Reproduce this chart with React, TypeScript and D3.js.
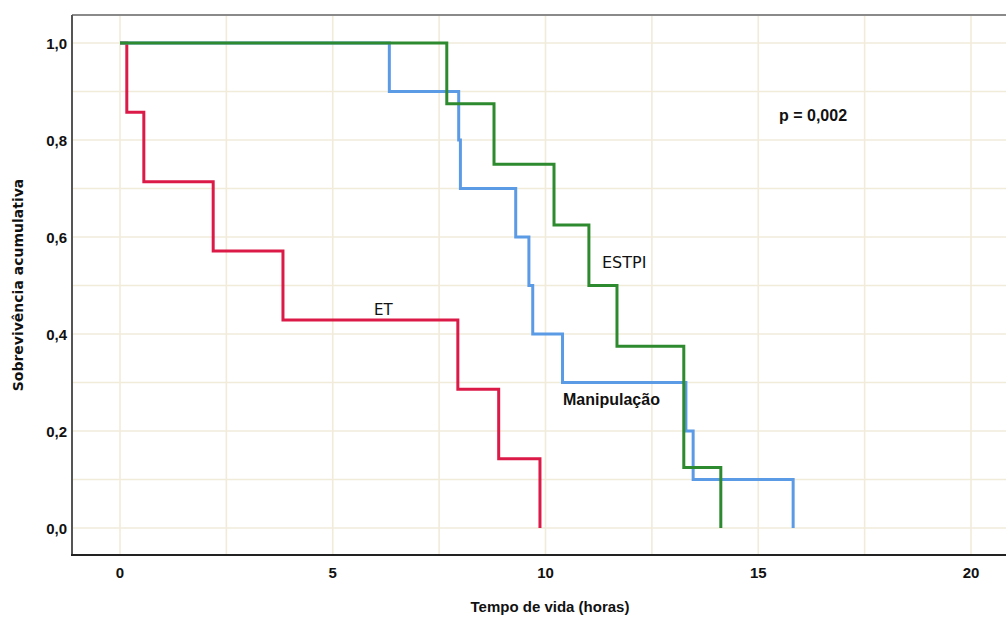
import React, { useEffect, useRef } from 'react';
import * as d3 from 'd3';

// Kaplan-Meier steps: time (hours) and cumulative survival
const etTimes = [0, 0.16, 0.56, 2.19, 3.83, 7.94, 8.9, 9.87];
const etSurv = [1, 0.857, 0.714, 0.571, 0.429, 0.286, 0.143, 0];

const manipTimes = [0, 6.33, 7.96, 8.0, 9.3, 9.61, 9.7, 10.4, 13.3, 13.47, 15.82];
const manipSurv = [1, 0.9, 0.8, 0.7, 0.6, 0.5, 0.4, 0.3, 0.2, 0.1, 0];

const estpiTimes = [0, 7.68, 8.79, 10.2, 11.02, 11.68, 13.25, 14.12];
const estpiSurv = [1, 0.875, 0.75, 0.625, 0.5, 0.375, 0.125, 0];

const xTicks = [0, 5, 10, 15, 20];
const xGrid = [0, 2.5, 5, 7.5, 10, 12.5, 15, 17.5, 20];
const yTicks = [0, 0.2, 0.4, 0.6, 0.8, 1.0];
const yGrid = d3.range(0, 11).map(i => i / 10);

const series = [
  { name: 'ET', times: etTimes, surv: etSurv, color: '#dc1a48' },
  { name: 'Manipulação', times: manipTimes, surv: manipSurv, color: '#5b9be6' },
  { name: 'ESTPI', times: estpiTimes, surv: estpiSurv, color: '#2e8a2e' },
];

const App = () => {
  const svgRef = useRef<SVGSVGElement | null>(null);

  useEffect(() => {
    const svg = d3.select(svgRef.current);
    svg.selectAll('*').remove();

    const W = 1006, H = 617;
    const left = 72, right = 1006, top = 15, bottom = 555;
    const font = '"Liberation Sans", Arial, sans-serif';
    const font2 = '"DejaVu Sans", Verdana, sans-serif';

    const x = d3.scaleLinear().domain([0, 20]).range([120, 971]);
    const y = d3.scaleLinear().domain([0, 1]).range([528, 43]);

    svg.attr('width', W).attr('height', H);

    // grid
    svg.append('g').selectAll('line.v').data(xGrid).join('line')
      .attr('x1', d => x(d)).attr('x2', d => x(d))
      .attr('y1', top).attr('y2', bottom)
      .attr('stroke', '#f1ebda').attr('stroke-width', 1.6);
    svg.append('g').selectAll('line.h').data(yGrid).join('line')
      .attr('x1', left).attr('x2', right)
      .attr('y1', d => y(d)).attr('y2', d => y(d))
      .attr('stroke', '#f1ebda').attr('stroke-width', 1.6);

    // frame
    svg.append('line').attr('x1', left).attr('x2', right).attr('y1', top).attr('y2', top)
      .attr('stroke', '#8a8a8a').attr('stroke-width', 2);
    svg.append('line').attr('x1', left).attr('x2', left).attr('y1', top).attr('y2', bottom)
      .attr('stroke', '#555').attr('stroke-width', 2);
    svg.append('line').attr('x1', left - 1).attr('x2', right).attr('y1', bottom).attr('y2', bottom)
      .attr('stroke', '#222').attr('stroke-width', 2);

    // curves
    const line = d3.line<[number, number]>()
      .x(d => x(d[0]))
      .y(d => y(d[1]))
      .curve(d3.curveStepAfter);

    series.forEach(s => {
      const pts = s.times.map((t, i) => [t, s.surv[i]] as [number, number]);
      svg.append('path')
        .datum(pts)
        .attr('fill', 'none')
        .attr('stroke', s.color)
        .attr('stroke-width', 3)
        .attr('d', line);
    });

    // tick labels
    svg.append('g').selectAll('text').data(yTicks).join('text')
      .attr('x', 67).attr('y', d => y(d) + 5.5)
      .attr('text-anchor', 'end')
      .attr('font-family', font).attr('font-weight', 'bold').attr('font-size', 15)
      .attr('fill', '#111')
      .text(d => d.toFixed(1).replace('.', ','));

    svg.append('g').selectAll('text').data(xTicks).join('text')
      .attr('x', d => x(d)).attr('y', 578)
      .attr('text-anchor', 'middle')
      .attr('font-family', font).attr('font-weight', 'bold').attr('font-size', 15)
      .attr('fill', '#111')
      .text(d => String(d));

    // axis titles
    svg.append('text')
      .attr('transform', 'translate(23,285) rotate(-90)')
      .attr('text-anchor', 'middle')
      .attr('font-family', font2).attr('font-weight', 'bold').attr('font-size', 14)
      .attr('fill', '#111')
      .text('Sobrevivência acumulativa');

    svg.append('text')
      .attr('x', 550).attr('y', 612)
      .attr('text-anchor', 'middle')
      .attr('font-family', font).attr('font-weight', 'bold').attr('font-size', 15)
      .attr('fill', '#111')
      .text('Tempo de vida (horas)');

    // annotations
    svg.append('text')
      .attr('x', 374).attr('y', 315)
      .attr('font-family', font2).attr('font-size', 15)
      .attr('fill', '#111')
      .text('ET');
    svg.append('text')
      .attr('x', 602).attr('y', 268)
      .attr('font-family', font2).attr('font-size', 16)
      .attr('fill', '#111')
      .text('ESTPI');
    svg.append('text')
      .attr('x', 563).attr('y', 405)
      .attr('font-family', font).attr('font-weight', 'bold').attr('font-size', 16)
      .attr('fill', '#111')
      .text('Manipulação');
    svg.append('text')
      .attr('x', 779).attr('y', 121)
      .attr('font-family', font).attr('font-weight', 'bold').attr('font-size', 16)
      .attr('fill', '#111')
      .text('p = 0,002');
  }, []);

  return (
    <div style={{ position: 'absolute', left: 0, top: 0, background: '#fff' }}>
      <svg ref={svgRef} style={{ display: 'block' }}></svg>
    </div>
  );
};

export default App;
